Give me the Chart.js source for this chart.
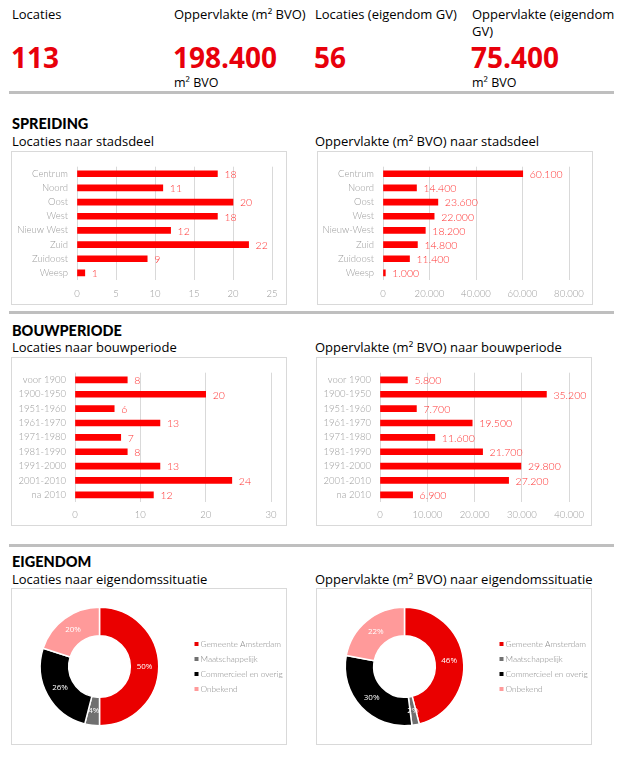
<!DOCTYPE html>
<html>
<head>
<meta charset="utf-8">
<script src="https://cdn.jsdelivr.net/npm/chart.js@4.4.0/dist/chart.umd.min.js"></script>
<style>
body { margin:0; width:630px; height:771px; background:#fff; font-family:"Open Sans", sans-serif; position:relative; overflow:hidden; color:#000; }
.t { position:absolute; white-space:nowrap; }
.kpi-label { font-size:13px; line-height:17px; }
.kpi { font-size:28px; font-weight:bold; color:#e8000b; line-height:32px; }
.unit { font-size:12.5px; line-height:16px; }
.rule { position:absolute; left:9px; width:605px; height:3px; background:#bfbfbf; }
.head { font-family:Lato, sans-serif; font-weight:900; font-size:14.5px; line-height:17px; }
.sub { font-size:13px; line-height:17px; }
.box { position:absolute; border:1px solid #d9d9d9; width:274px; }
.box canvas { display:block; }
</style>
</head>
<body>

<!-- KPI row -->
<div class="t kpi-label" style="left:12px;top:6px">Locaties</div>
<div class="t kpi-label" style="left:174px;top:6px">Oppervlakte (m² BVO)</div>
<div class="t kpi-label" style="left:315px;top:6px">Locaties (eigendom GV)</div>
<div class="t kpi-label" style="left:472px;top:6px">Oppervlakte (eigendom<br>GV)</div>
<div class="t kpi" style="left:11px;top:41px">113</div>
<div class="t kpi" style="left:173px;top:41px">198.400</div>
<div class="t kpi" style="left:314px;top:41px">56</div>
<div class="t kpi" style="left:471px;top:41px">75.400</div>
<div class="t unit" style="left:174px;top:75px">m² BVO</div>
<div class="t unit" style="left:472px;top:75px">m² BVO</div>
<div class="rule" style="top:91px"></div>

<!-- Spreiding -->
<div class="t head" style="left:12px;top:115px">SPREIDING</div>
<div class="t sub" style="left:12px;top:133px">Locaties naar stadsdeel</div>
<div class="t sub" style="left:315px;top:133px">Oppervlakte (m² BVO) naar stadsdeel</div>
<div class="box" style="left:11px;top:151px"><canvas id="stadsdeelLoc" width="274" height="152"></canvas></div>
<div class="box" style="left:317px;top:151px"><canvas id="stadsdeelOpp" width="274" height="152"></canvas></div>
<div class="rule" style="top:311px"></div>

<!-- Bouwperiode -->
<div class="t head" style="left:12px;top:322px">BOUWPERIODE</div>
<div class="t sub" style="left:12px;top:339px">Locaties naar bouwperiode</div>
<div class="t sub" style="left:315px;top:339px">Oppervlakte (m² BVO) naar bouwperiode</div>
<div class="box" style="left:11px;top:357px"><canvas id="bouwLoc" width="274" height="167"></canvas></div>
<div class="box" style="left:316px;top:357px"><canvas id="bouwOpp" width="274" height="167"></canvas></div>
<div class="rule" style="top:544px"></div>

<!-- Eigendom -->
<div class="t head" style="left:12px;top:553px">EIGENDOM</div>
<div class="t sub" style="left:12px;top:571px">Locaties naar eigendomssituatie</div>
<div class="t sub" style="left:315px;top:571px">Oppervlakte (m² BVO) naar eigendomssituatie</div>
<div class="box" style="left:11px;top:588px"><canvas id="eigLoc" width="274" height="155"></canvas></div>
<div class="box" style="left:316px;top:588px"><canvas id="eigOpp" width="274" height="155"></canvas></div>

<script>
// Data
var stadsdelen = ['Centrum', 'Noord', 'Oost', 'West', 'Nieuw West', 'Zuid', 'Zuidoost', 'Weesp'];
var stadsdelenOpp = ['Centrum', 'Noord', 'Oost', 'West', 'Nieuw-West', 'Zuid', 'Zuidoost', 'Weesp'];
var locatiesStadsdeel = [18, 11, 20, 18, 12, 22, 9, 1];
var oppervlakteStadsdeel = [60100, 14400, 23600, 22000, 18200, 14800, 11400, 1000];

var bouwperiodes = ['voor 1900', '1900-1950', '1951-1960', '1961-1970', '1971-1980', '1981-1990', '1991-2000', '2001-2010', 'na 2010'];
var locatiesBouw = [8, 20, 6, 13, 7, 8, 13, 24, 12];
var oppervlakteBouw = [5800, 35200, 7700, 19500, 11600, 21700, 29800, 27200, 6900];

var eigendomLabels = ['Gemeente Amsterdam', 'Maatschappelijk', 'Commercieel en overig', 'Onbekend'];
var eigendomLocPct = [50, 4, 26, 20];
var eigendomOppPct = [46, 2, 30, 22];
var eigendomColors = ['#ea0000', '#707070', '#000000', '#ff9a9a'];

var barRed = '#ff0000';
var labelRed = '#ff3030';
var tickGrey = '#9a9a9a';
var chartFont = 'Lato';

function nl(v){
    // Dutch thousands separator
    return String(v).replace(/\B(?=(\d{3})+(?!\d))/g, '.');
}

// Value labels to the right of every bar
var barLabels = {
    id: 'barLabels',
    afterDatasetsDraw: function(chart){
        var ctx = chart.ctx;
        var meta = chart.getDatasetMeta(0);
        var values = chart.data.datasets[0].data;
        ctx.save();
        ctx.font = '300 10.5px ' + chartFont;
        ctx.fillStyle = labelRed;
        ctx.textBaseline = 'middle';
        ctx.textAlign = 'left';
        meta.data.forEach(function(bar, i){
            ctx.fillText(nl(values[i]), bar.x + 7, bar.y + 1);
        });
        ctx.restore();
    }
};

// Percent labels in the slices and a legend to the right
var donutLabels = {
    id: 'donutLabels',
    afterDatasetsDraw: function(chart){
        var ctx = chart.ctx;
        var meta = chart.getDatasetMeta(0);
        var ds = chart.data.datasets[0];
        ctx.save();
        ctx.font = '8px "Open Sans"';
        ctx.fillStyle = '#ffffff';
        ctx.textAlign = 'center';
        ctx.textBaseline = 'middle';
        meta.data.forEach(function(arc, i){
            var p = arc.getCenterPoint();
            ctx.fillText(ds.data[i] + '%', p.x, p.y);
        });
        // legend
        var x = chart.chartArea.right + 35;
        var y = 55;
        ctx.font = '300 8.3px ' + chartFont;
        ctx.textAlign = 'left';
        chart.data.labels.forEach(function(lab, i){
            ctx.fillStyle = ds.backgroundColor[i];
            ctx.fillRect(x, y + i * 15 - 2, 4, 4);
            ctx.fillStyle = '#888888';
            ctx.fillText(lab, x + 6, y + i * 15);
        });
        ctx.restore();
    }
};

function barChart(id, labels, values, o){
    /*
        Horizontal bar chart, o holds the scale range and the plot placement
    */
    return new Chart(document.getElementById(id), {
        type: 'bar',
        data: {
            labels: labels,
            datasets: [{
                data: values,
                backgroundColor: barRed,
                barThickness: 6
            }]
        },
        options: {
            indexAxis: 'y',
            responsive: false,
            animation: false,
            layout: { padding: { left: 0, top: o.top, right: o.right, bottom: 0 } },
            plugins: { legend: { display: false }, tooltip: { enabled: false } },
            scales: {
                x: {
                    min: 0,
                    max: o.max,
                    ticks: {
                        stepSize: o.step,
                        padding: o.tickPad,
                        color: tickGrey,
                        font: { family: chartFont, size: 9.5, weight: 300 },
                        callback: function(v){ return nl(v); }
                    },
                    grid: { color: '#d9d9d9', drawTicks: false },
                    border: { display: false },
                    afterFit: function(scale){ scale.height = o.xh; }
                },
                y: {
                    ticks: {
                        autoSkip: false,
                        padding: 9,
                        color: tickGrey,
                        font: { family: chartFont, size: 9.5, weight: 300 }
                    },
                    grid: { display: false, drawTicks: false },
                    border: { display: false },
                    afterFit: function(scale){ scale.width = o.yw; }
                }
            }
        },
        plugins: [barLabels]
    });
}

function donutChart(id, values){
    return new Chart(document.getElementById(id), {
        type: 'doughnut',
        data: {
            labels: eigendomLabels,
            datasets: [{
                data: values,
                backgroundColor: eigendomColors,
                borderColor: '#ffffff',
                borderWidth: 1.5
            }]
        },
        options: {
            responsive: false,
            animation: false,
            cutout: '52%',
            layout: { padding: { left: 27.5, top: 17.5, right: 126.5, bottom: 17.5 } },
            plugins: { legend: { display: false }, tooltip: { enabled: false } }
        },
        plugins: [donutLabels]
    });
}

barChart('stadsdeelLoc', stadsdelen, locatiesStadsdeel, { max: 25, step: 5, yw: 65, right: 14, top: 10, xh: 24, tickPad: 8 });
barChart('stadsdeelOpp', stadsdelenOpp, oppervlakteStadsdeel, { max: 80000, step: 20000, yw: 65, right: 23, top: 10, xh: 24, tickPad: 8 });
barChart('bouwLoc', bouwperiodes, locatiesBouw, { max: 30, step: 10, yw: 63, right: 15, top: 11, xh: 23, tickPad: 7 });
barChart('bouwOpp', bouwperiodes, oppervlakteBouw, { max: 40000, step: 10000, yw: 63, right: 21, top: 11, xh: 23, tickPad: 7 });
donutChart('eigLoc', eigendomLocPct);
donutChart('eigOpp', eigendomOppPct);
</script>
</body>
</html>
